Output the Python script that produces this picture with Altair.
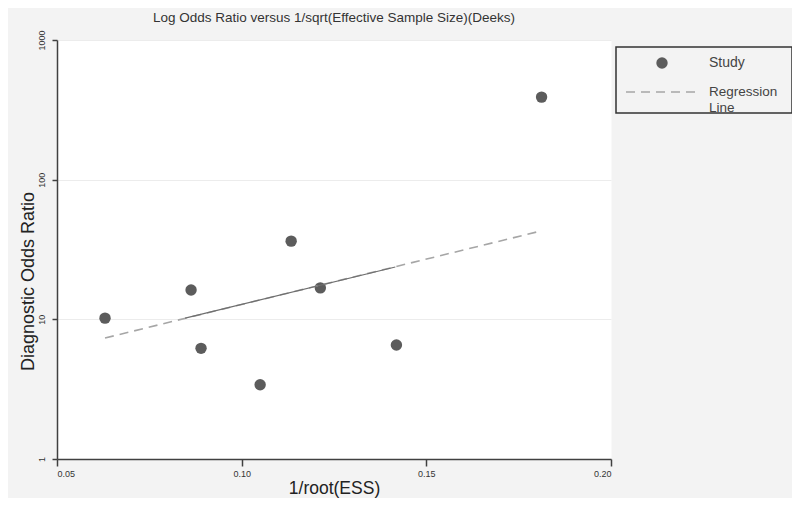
import altair as alt
import pandas as pd

# Study points
ess_inv = [0.063, 0.0863, 0.089, 0.105, 0.1134, 0.1213, 0.1419, 0.1812]
dor = [10.2, 16.2, 6.2, 3.4, 36.3, 16.8, 6.55, 390.0]

# Regression line (dashed) and its darker middle segment
reg_x = [0.063, 0.181]
reg_y = [7.35, 42.9]
seg_x = [0.0847, 0.1416]
seg_y = [10.2, 23.7]

x_ticks = [0.05, 0.10, 0.15, 0.20]
y_ticks = [1, 10, 100, 1000]

legend_labels = ["Study", ["Regression", "Line"]]

pts = pd.DataFrame({"x": ess_inv, "y": dor})
reg = pd.DataFrame({"x": reg_x, "y": reg_y})
seg = pd.DataFrame({"x": seg_x, "y": seg_y})
one = pd.DataFrame({"k": [0]})

xs = alt.Scale(domain=[0.05, 0.20], nice=False, zero=False)
ys = alt.Scale(type="log", domain=[1, 1000], nice=False)

x_axis = alt.Axis(
    values=x_ticks, format=".2f", title="1/root(ESS)", grid=False,
    labelFontSize=9, labelColor="#333333", tickSize=7, tickColor="#404040",
    domainColor="#404040", domainWidth=1.5, tickWidth=1.5, labelPadding=3,
    titleFontSize=17.5, titleFontWeight="normal", titleColor="#222222",
    titleY=34.5, titleBaseline="alphabetic",
)
y_axis = alt.Axis(
    values=y_ticks, format="d", title="Diagnostic Odds Ratio", grid=True,
    gridColor="#ececec", labelFontSize=9, labelColor="#333333", labelAngle=-90,
    labelPadding=6, tickSize=5, tickColor="#404040", tickWidth=1.5,
    domainColor="#404040", domainWidth=1.5,
    titleFontSize=18, titleFontWeight="normal", titleColor="#222222",
    titleX=-29, titleY=241, titleAngle=-90, titleBaseline="middle", titleAlign="center",
)

points = alt.Chart(pts).mark_circle(size=130, color="#5c5c5c", opacity=1).encode(
    x=alt.X("x:Q", scale=xs, axis=x_axis),
    y=alt.Y("y:Q", scale=ys, axis=y_axis),
)

reg_line = alt.Chart(reg).mark_line(color="#a6a6a6", strokeWidth=1.6, strokeDash=[9, 6]).encode(
    x=alt.X("x:Q", scale=xs), y=alt.Y("y:Q", scale=ys)
)
seg_line = alt.Chart(seg).mark_line(color="#6e6e6e", strokeWidth=1.2).encode(
    x=alt.X("x:Q", scale=xs), y=alt.Y("y:Q", scale=ys)
)

# Legend (drawn outside the plot area)
leg_box = alt.Chart(one).mark_rect(fill="#f3f3f3", stroke="#333333", strokeWidth=1.5).encode(
    x=alt.value(559), x2=alt.value(735), y=alt.value(7), y2=alt.value(73)
)
leg_pt = alt.Chart(one).mark_circle(size=130, color="#5c5c5c", opacity=1).encode(
    x=alt.value(605), y=alt.value(23)
)
leg_line = alt.Chart(one).mark_rule(color="#a6a6a6", strokeWidth=1.6, strokeDash=[9, 6]).encode(
    x=alt.value(569), x2=alt.value(640), y=alt.value(52)
)
leg_t1 = alt.Chart(one).mark_text(
    align="left", baseline="middle", fontSize=14, color="#444444", font="Liberation Sans"
).encode(x=alt.value(652), y=alt.value(23), text=alt.value(legend_labels[0]))
leg_t2 = alt.Chart(one).mark_text(
    align="left", baseline="middle", fontSize=13.5, color="#444444", font="Liberation Sans",
    lineHeight=16
).encode(x=alt.value(652), y=alt.value(52), text=alt.value(legend_labels[1]))

chart = alt.layer(points, reg_line, seg_line, leg_box, leg_pt, leg_line, leg_t1, leg_t2).properties(
    width=554,
    height=419,
    title=alt.TitleParams(
        "Log Odds Ratio versus 1/sqrt(Effective Sample Size)(Deeks)",
        fontSize=13.5, fontWeight="normal", color="#333333", font="Liberation Sans",
        anchor="middle", offset=5,
    ),
    background="#f3f3f3",
    autosize=alt.AutoSizeParams(type="none"),
    padding={"left": 49, "top": 32, "right": 181, "bottom": 39},
).configure(
    font="Liberation Sans"
).configure_view(
    fill="white", stroke="transparent"
)

chart.save("out.html", embed_options={"renderer": "svg", "actions": False})
